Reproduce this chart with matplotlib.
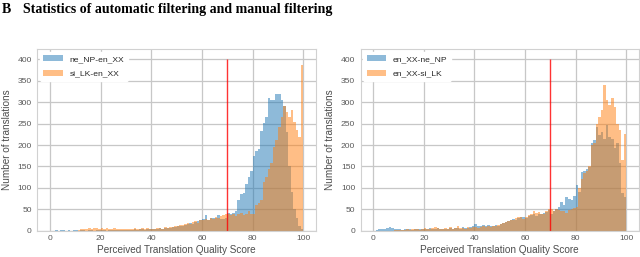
import matplotlib
matplotlib.use("Agg")
import numpy as np
import matplotlib.pyplot as plt

# bin edges: 100 bins of width 1 from 0 to 100
edges = np.arange(0, 101)

# left panel: into English
ne_en = [0, 0, 1, 0, 1, 1, 0, 1, 0, 1,
         1, 0, 1, 1, 0, 1, 1, 0, 1, 1,
         1, 1, 0, 1, 1, 2, 1, 1, 2, 1,
         2, 1, 2, 3, 2, 4, 3, 2, 3, 4,
         5, 4, 5, 6, 5, 7, 6, 7, 8, 8,
         10, 12, 11, 14, 15, 17, 16, 20, 22, 25,
         28, 36, 25, 30, 29, 30, 36, 28, 27, 30,
         42, 40, 42, 45, 72, 85, 88, 110, 125, 140,
         175, 185, 190, 232, 252, 266, 309, 305, 305, 318,
         318, 305, 292, 230, 150, 90, 50, 30, 12, 3]
si_en = [0, 0, 0, 0, 0, 0, 0, 0, 0, 0,
         0, 1, 4, 5, 4, 6, 5, 7, 6, 5,
         6, 5, 7, 4, 5, 6, 4, 3, 5, 4,
         3, 4, 5, 6, 4, 5, 7, 5, 6, 4,
         5, 4, 6, 7, 5, 8, 7, 9, 8, 10,
         12, 14, 13, 15, 18, 16, 20, 22, 19, 24,
         26, 28, 24, 30, 27, 32, 30, 34, 36, 38,
         40, 36, 38, 35, 38, 42, 36, 40, 45, 38,
         40, 60, 65, 72, 114, 126, 145, 157, 196, 212,
         243, 266, 290, 278, 266, 281, 254, 235, 219, 386]

# right panel: out of English
en_ne = [0, 2, 3, 4, 5, 6, 8, 7, 5, 4,
         3, 2, 3, 4, 3, 2, 3, 4, 3, 4,
         5, 4, 6, 5, 4, 6, 5, 3, 5, 4,
         6, 5, 7, 6, 5, 8, 7, 6, 8, 10,
         15, 12, 10, 13, 11, 14, 12, 10, 14, 12,
         15, 18, 20, 22, 25, 28, 26, 30, 33, 32,
         30, 34, 36, 38, 35, 40, 38, 42, 44, 48,
         40, 45, 50, 55, 68, 60, 79, 75, 72, 80,
         106, 91, 138, 140, 145, 149, 204, 211, 243, 223,
         231, 215, 246, 219, 215, 192, 204, 157, 87, 79]
en_si = [0, 0, 0, 0, 0, 0, 0, 0, 1, 1,
         2, 1, 2, 3, 2, 3, 4, 3, 2, 5,
         6, 5, 4, 7, 8, 6, 5, 3, 6, 4,
         9, 5, 6, 10, 7, 6, 5, 8, 6, 9,
         8, 7, 9, 10, 8, 11, 9, 12, 10, 13,
         15, 18, 20, 22, 24, 26, 30, 33, 33, 28,
         32, 36, 40, 45, 42, 44, 38, 40, 46, 50,
         50, 45, 50, 48, 46, 45, 42, 48, 50, 52,
         55, 100, 120, 135, 140, 150, 200, 205, 250, 266,
         281, 340, 305, 293, 309, 289, 250, 235, 165, 225]

threshold = 70

plt.rcParams["font.family"] = ["Liberation Sans", "DejaVu Sans"]

fig = plt.figure(figsize=(6.4, 2.57), dpi=100)
ax1 = fig.add_axes([0.0583, 0.1023, 0.4355, 0.707])
ax2 = fig.add_axes([0.5636, 0.1023, 0.4345, 0.707])

panels = [
    (ax1, ne_en, si_en, "ne_NP-en_XX", "si_LK-en_XX"),
    (ax2, en_ne, en_si, "en_XX-ne_NP", "en_XX-si_LK"),
]

for ax, blue, orange, lab1, lab2 in panels:
    ax.stairs(blue, edges, fill=True, color="#1f77b4", alpha=0.5, label=lab1)
    ax.stairs(orange, edges, fill=True, color="#ff7f0e", alpha=0.5, label=lab2)
    ax.vlines(threshold, 0, 400, color="red", lw=1, alpha=0.8)
    ax.set_xlim(-5, 105)
    ax.set_ylim(0, 424)
    ax.set_xticks(range(0, 101, 20))
    ax.set_yticks(range(0, 401, 50))
    ax.grid(True, color="0.78", lw=0.9)
    ax.set_axisbelow(True)
    for s in ax.spines.values():
        s.set_color("0.82")
        s.set_linewidth(0.8)
    ax.tick_params(length=0, labelsize=6.1, labelcolor="0.35")
    ax.tick_params(axis="y", pad=4)
    ax.tick_params(axis="x", pad=3)
    ax.set_xlabel("Perceived Translation Quality Score", fontsize=7.2, color="0.3", labelpad=2)
    ax.set_ylabel("Number of translations", fontsize=7.2, color="0.3", labelpad=4)
    leg = ax.legend(loc="upper left", fontsize=6.1, frameon=True, facecolor="white",
                    edgecolor="white", framealpha=1, borderaxespad=0.3,
                    labelspacing=0.8, handlelength=2.3)
    for t in leg.get_texts():
        t.set_color("0.15")

fig.text(0.003, 0.962, "B", fontsize=10, fontweight="bold", family="Liberation Serif", va="center")
fig.text(0.036, 0.962, "Statistics of automatic filtering and manual filtering", fontsize=10,
         fontweight="bold", family="Liberation Serif", va="center")

fig.savefig("out.png", dpi=100)
